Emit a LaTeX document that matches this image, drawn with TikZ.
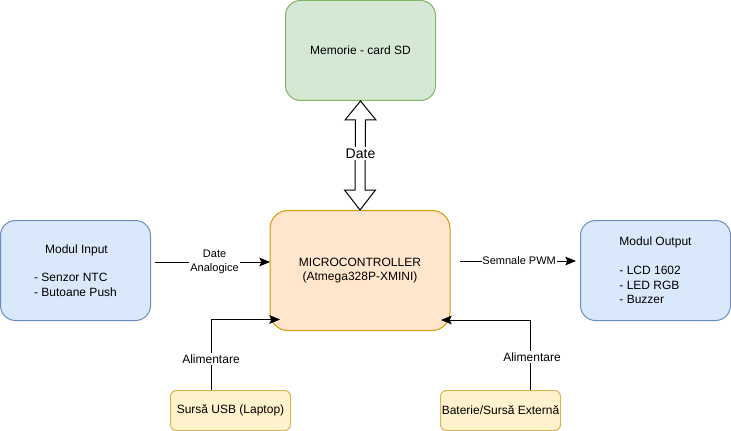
\documentclass[tikz,border=0pt]{standalone}
\usepackage{fontspec}
\setmainfont{Liberation Sans}
\usepackage{xcolor}
\usetikzlibrary{arrows.meta,calc}

\definecolor{greenfill}{HTML}{D5E8D4}
\definecolor{greenline}{HTML}{82B366}
\definecolor{orangefill}{HTML}{FFE6CC}
\definecolor{orangeline}{HTML}{D79B00}
\definecolor{bluefill}{HTML}{DAE8FC}
\definecolor{blueline}{HTML}{6C8EBF}
\definecolor{yellowfill}{HTML}{FFF2CC}
\definecolor{yellowline}{HTML}{D6B656}

\tikzset{
  modul/.style={draw=blueline,fill=bluefill,line width=0.75pt,rounded corners=11.25pt,minimum width=112.5pt,minimum height=75pt,inner sep=0pt,align=left,font=\fontsize{9}{10.8}\selectfont},
  sursa/.style={draw=yellowline,fill=yellowfill,line width=0.75pt,rounded corners=4.5pt,minimum width=90pt,minimum height=30pt,inner sep=0pt,font=\fontsize{9}{10.8}\selectfont},
  legatura/.style={line width=0.75pt,-{Stealth[length=8pt,width=6.5pt,inset=1.5pt]}},
  eticheta/.style={fill=white,inner sep=1pt,align=center,font=\fontsize{8.25}{10.5}\selectfont},
}

\begin{document}
\begin{tikzpicture}[x=0.75pt,y=0.75pt,yscale=-1,xscale=1]
\useasboundingbox (0,0) rectangle (731,431);

% Blocks
\node [modul,draw=greenline,fill=greenfill,align=center] (memorie) at (360.5,50.5) {Memorie - card SD};
\node [modul,draw=orangeline,fill=orangefill,rounded corners=13.5pt,minimum width=135pt,minimum height=90pt,align=center] (mcu) at (360,270.5) {MICROCONTROLLER\\(Atmega328P-XMINI)};
\node [modul] (input) at (75.5,270.5) {\hspace*{8.25pt}Modul Input\\[10.8pt]- Senzor NTC\\- Butoane Push};
\node [modul] (output) at (655.5,270.5) {Modul Output\\[10.8pt]- LCD 1602\\- LED RGB\\- Buzzer};
\node [sursa] (usb) at (230.5,410.5) {Sursă USB (Laptop)};
\node [sursa] (baterie) at (500.5,410.5) {Baterie/Sursă Externă};

% Free ends
\coordinate (inputout) at (154.5,262);
\coordinate (mcuin) at (270,262);
\coordinate (mcuout) at (460,261);
\coordinate (outputin) at (576,261);
\coordinate (usbin) at (280,319.5);
\coordinate (baterin) at (441,320);

% Double arrow
\draw [line width=0.75pt,line join=miter,fill=white] (memorie.south) -- ++(15.5,19) -- ++(-10.5,0) -- ($(mcu.north)+(5,-20)$) -- ++(10.5,0) -- (mcu.north) -- ++(-15.5,-20) -- ++(10.5,0) -- ($(memorie.south)+(-5,19)$) -- ++(-10.5,0) -- cycle ;
\node [fill=white,inner sep=1pt,font=\fontsize{10.5}{12}\selectfont] (date) at (360.5,153.5) {Date};

% Connectors
\draw [legatura] (inputout) -- node [eticheta,pos=0.52] (analog) {Date\\Analogice} (mcuin) ;
\draw [legatura] (mcuout) -- node [eticheta,pos=0.51,inner sep=0.5pt] (pwm) {Semnale PWM} (outputin) ;
\draw [legatura] (usb.north -| 211,0) |- node [eticheta,pos=0.22,font=\fontsize{9}{10.8}\selectfont] (alimusb) {Alimentare} (usbin) ;
\draw [legatura] (baterie.north -| 530,0) |- node [eticheta,pos=0.235,xshift=1.5,font=\fontsize{9}{10.8}\selectfont] (alimbat) {Alimentare} (baterin) ;

\end{tikzpicture}
\end{document}
